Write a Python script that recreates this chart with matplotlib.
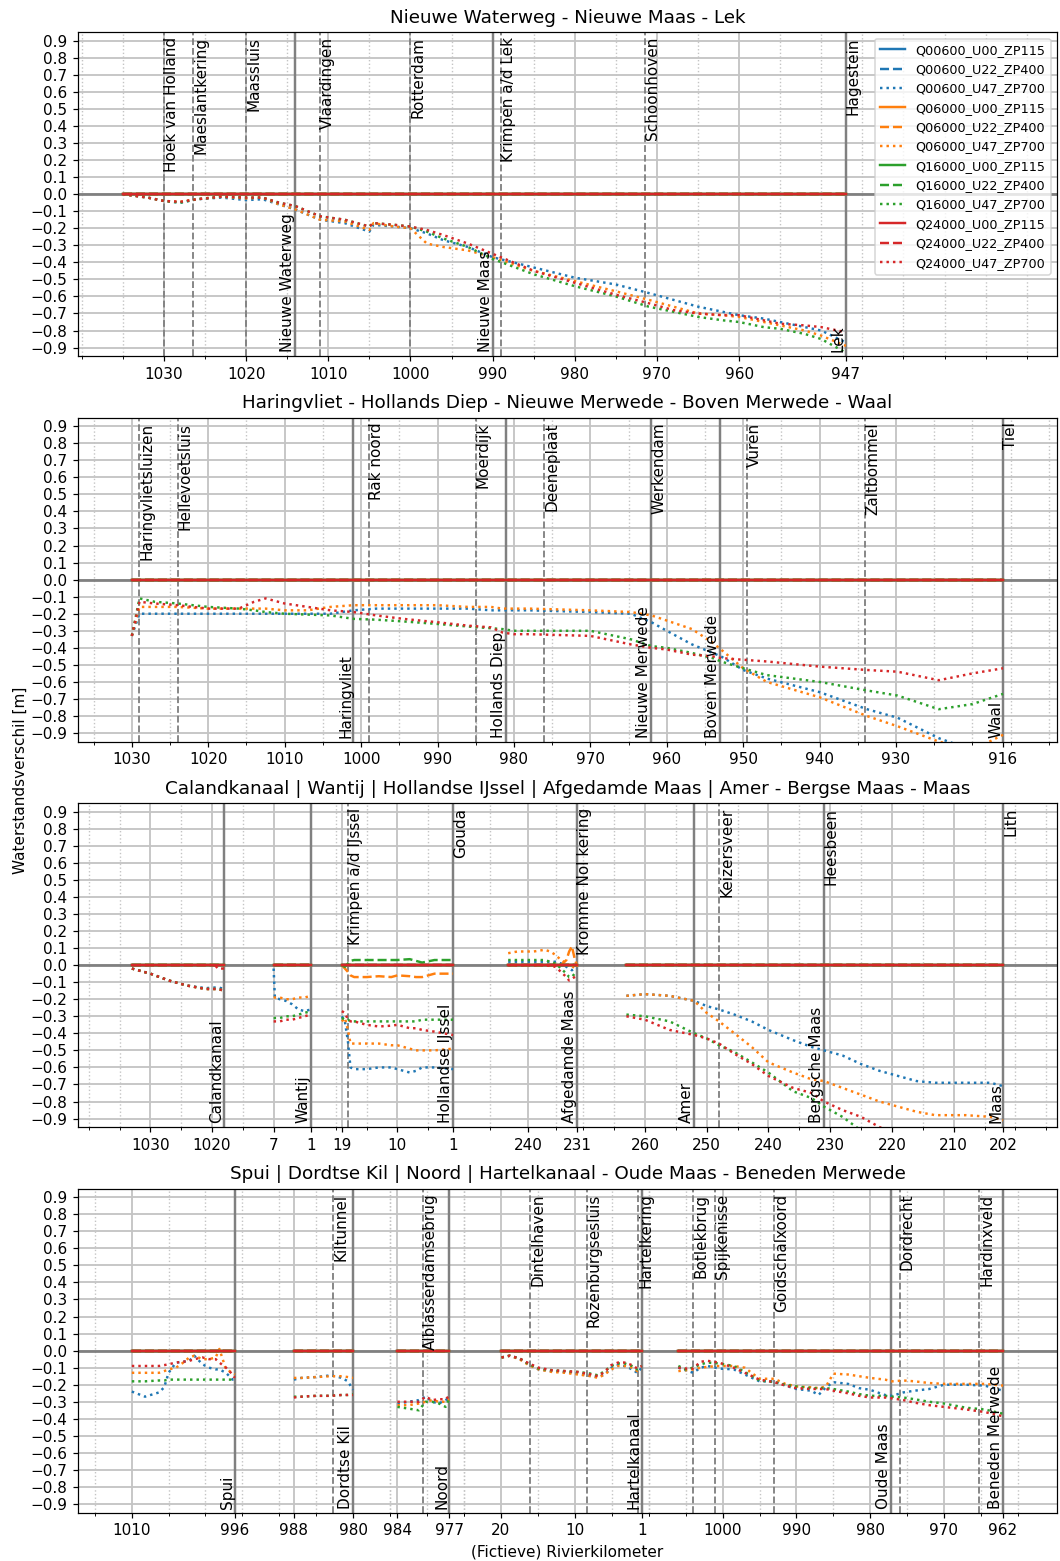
import numpy as np
import matplotlib
matplotlib.use("Agg")
import matplotlib.pyplot as plt
from matplotlib.transforms import blended_transform_factory

scenarios = ["Q00600", "Q06000", "Q16000", "Q24000"]
varianten = ["U00_ZP115", "U22_ZP400", "U47_ZP700"]
kleuren = ["C0", "C1", "C2", "C3"]
stijlen = ["-", "--", ":"]
nullijn = [0.0, 0.0]

titels = ["Nieuwe Waterweg - Nieuwe Maas - Lek",
          "Haringvliet - Hollands Diep - Nieuwe Merwede - Boven Merwede - Waal",
          "Calandkanaal | Wantij | Hollandse IJssel | Afgedamde Maas | Amer - Bergse Maas - Maas",
          "Spui | Dordtse Kil | Noord | Hartelkanaal - Oude Maas - Beneden Merwede"]

# ---------------- data (U47_ZP700, dotted) ----------------
# paneel 1: Nieuwe Waterweg - Nieuwe Maas - Lek
nwm_km = [1035, 1032, 1030, 1028, 1026, 1023, 1020, 1018, 1016, 1014, 1011, 1008, 1005, 1004.5, 1002,
          1000, 998, 996, 993, 990, 985, 980, 975, 971, 968, 965, 962, 960, 957, 955, 952, 950, 947]
nwm_q00600 = [0, -0.02, -0.04, -0.05, -0.03, -0.02, -0.035, -0.03, -0.06, -0.09, -0.15, -0.17, -0.22, -0.18, -0.19,
              -0.20, -0.23, -0.27, -0.31, -0.37, -0.43, -0.49, -0.53, -0.58, -0.62, -0.66, -0.69, -0.71, -0.73, -0.75, -0.78, -0.80, -0.87]
nwm_q06000 = [0, -0.02, -0.04, -0.045, -0.03, -0.015, -0.025, -0.02, -0.06, -0.09, -0.15, -0.16, -0.21, -0.17, -0.19,
              -0.20, -0.29, -0.31, -0.33, -0.37, -0.45, -0.51, -0.57, -0.62, -0.66, -0.70, -0.71, -0.72, -0.75, -0.77, -0.80, -0.83, -0.89]
nwm_q16000 = [0, -0.02, -0.04, -0.05, -0.03, -0.015, -0.02, -0.02, -0.05, -0.07, -0.13, -0.15, -0.19, -0.17, -0.18,
              -0.19, -0.22, -0.26, -0.31, -0.38, -0.47, -0.54, -0.60, -0.66, -0.69, -0.72, -0.74, -0.75, -0.78, -0.79, -0.82, -0.85, -0.93]
nwm_q24000 = [0, -0.02, -0.04, -0.045, -0.03, -0.015, -0.02, -0.02, -0.05, -0.07, -0.13, -0.15, -0.19, -0.17, -0.18,
              -0.19, -0.21, -0.24, -0.29, -0.35, -0.45, -0.52, -0.59, -0.64, -0.68, -0.70, -0.71, -0.71, -0.74, -0.76, -0.77, -0.78, -0.81]

# paneel 2: Haringvliet - Hollands Diep - Nieuwe Merwede - Boven Merwede - Waal
hvw_km = [1030, 1029, 1027, 1024, 1020, 1016, 1014, 1012.5, 1010, 1007, 1004, 1001, 998, 994.5, 990,
          986, 983, 981.5, 980, 978, 970, 964.7, 962, 960, 956.7, 954, 952.9, 950, 946.9, 940,
          933.8, 929.8, 924.4, 920, 916]
hvw_q00600 = [-0.33, -0.20, -0.20, -0.20, -0.20, -0.20, -0.20, -0.20, -0.20, -0.20, -0.20, -0.18, -0.17, -0.17, -0.17,
              -0.17, -0.18, -0.18, -0.18, -0.18, -0.19, -0.20, -0.25, -0.30, -0.38, -0.43, -0.45, -0.53, -0.58, -0.66,
              -0.76, -0.81, -0.93, -1.00, -0.97]
hvw_q06000 = [-0.33, -0.16, -0.16, -0.16, -0.17, -0.17, -0.17, -0.17, -0.18, -0.18, -0.16, -0.15, -0.15, -0.15, -0.15,
              -0.16, -0.16, -0.17, -0.17, -0.17, -0.18, -0.19, -0.21, -0.24, -0.29, -0.37, -0.41, -0.52, -0.60, -0.69,
              -0.80, -0.86, -0.95, -1.00, -0.91]
hvw_q16000 = [-0.33, -0.11, -0.13, -0.14, -0.16, -0.17, -0.18, -0.19, -0.20, -0.205, -0.21, -0.23, -0.235, -0.245, -0.26,
              -0.275, -0.285, -0.29, -0.30, -0.30, -0.30, -0.35, -0.39, -0.40, -0.43, -0.46, -0.48, -0.52, -0.56, -0.60,
              -0.65, -0.68, -0.76, -0.73, -0.67]
hvw_q24000 = [-0.33, -0.13, -0.14, -0.15, -0.17, -0.17, -0.13, -0.11, -0.14, -0.16, -0.18, -0.19, -0.21, -0.23, -0.25,
              -0.27, -0.28, -0.31, -0.32, -0.32, -0.33, -0.38, -0.40, -0.41, -0.44, -0.45, -0.46, -0.47, -0.48, -0.51,
              -0.53, -0.54, -0.59, -0.55, -0.52]

# paneel 3
cal_km = [1033, 1030, 1027, 1024, 1021, 1019, 1018]
cal_q00600 = [-0.02, -0.05, -0.09, -0.12, -0.135, -0.13, -0.14]
cal_q06000 = [-0.02, -0.05, -0.09, -0.12, -0.14, -0.14, -0.15]
cal_q16000 = [-0.02, -0.05, -0.09, -0.12, -0.14, -0.14, -0.15]
cal_q24000 = [-0.02, -0.05, -0.09, -0.12, -0.14, -0.14, -0.15]
cal_q24000_u22_km = [1033, 1019.5, 1019, 1018]
cal_q24000_u22 = [0.0, 0.0, -0.02, -0.02]

wan_km = [7, 6.8, 6, 5, 4, 3, 2, 1]
wan_q00600 = [-0.02, -0.19, -0.20, -0.21, -0.23, -0.26, -0.27, -0.26]
wan_q06000 = [-0.19, -0.19, -0.19, -0.20, -0.20, -0.19, -0.19, -0.18]
wan_q16000 = [-0.31, -0.31, -0.31, -0.30, -0.30, -0.29, -0.28, -0.27]
wan_q24000 = [-0.33, -0.33, -0.33, -0.32, -0.32, -0.31, -0.30, -0.29]

hij_km = [19, 18.5, 18, 17.6, 17, 15, 13, 11, 10, 8, 7, 6, 4, 1]
hij_q00600 = [-0.30, -0.33, -0.45, -0.60, -0.61, -0.61, -0.60, -0.60, -0.61, -0.63, -0.62, -0.60, -0.60, -0.61]
hij_q06000 = [-0.33, -0.31, -0.38, -0.46, -0.46, -0.46, -0.46, -0.47, -0.47, -0.49, -0.50, -0.50, -0.50, -0.49]
hij_q16000 = [-0.31, -0.32, -0.32, -0.33, -0.33, -0.33, -0.33, -0.33, -0.33, -0.33, -0.33, -0.32, -0.32, -0.32]
hij_q24000 = [-0.27, -0.28, -0.32, -0.33, -0.33, -0.35, -0.36, -0.355, -0.35, -0.37, -0.37, -0.38, -0.39, -0.41]
hij_q06000_u22 = [0.0, -0.02, -0.04, -0.06, -0.07, -0.07, -0.065, -0.07, -0.06, -0.065, -0.07, -0.07, -0.05, -0.05]
hij_q16000_u22 = [0.0, -0.01, 0.01, 0.025, 0.03, 0.03, 0.03, 0.03, 0.03, 0.035, 0.025, 0.015, 0.03, 0.03]

afm_km = [243.7, 242, 239, 237, 236, 235, 234, 233, 232.5, 232, 231.5, 231]
afm_q00600 = [0.02, 0.02, 0.02, 0.02, 0.02, 0.02, 0.01, -0.01, -0.02, -0.03, -0.02, -0.02]
afm_q06000 = [0.07, 0.08, 0.08, 0.09, 0.08, 0.06, 0.03, 0.01, 0.0, -0.02, 0.0, 0.01]
afm_q16000 = [0.03, 0.03, 0.03, 0.03, 0.02, 0.01, -0.02, -0.05, -0.07, -0.07, -0.05, -0.04]
afm_q24000 = [0.0, 0.0, 0.0, 0.0, -0.005, -0.01, -0.04, -0.07, -0.09, -0.08, -0.07, -0.06]
afm_q06000_u22 = [0.0, 0.0, 0.0, 0.0, 0.0, 0.0, 0.0, 0.03, 0.08, 0.11, 0.04, -0.01]

abm_km = [263, 260, 256, 252, 250, 248, 245.5, 242.7, 240, 236, 233, 231, 228, 225, 222, 219, 216, 213, 208, 204, 202]
abm_q00600 = [-0.18, -0.17, -0.18, -0.21, -0.24, -0.26, -0.29, -0.33, -0.38, -0.44, -0.48, -0.50, -0.53, -0.58,
              -0.62, -0.65, -0.68, -0.69, -0.69, -0.69, -0.71]
abm_q06000 = [-0.18, -0.17, -0.18, -0.21, -0.28, -0.33, -0.40, -0.48, -0.57, -0.63, -0.67, -0.68, -0.72, -0.76,
              -0.80, -0.83, -0.86, -0.88, -0.88, -0.89, -0.91]
abm_q16000 = [-0.29, -0.30, -0.33, -0.40, -0.43, -0.47, -0.51, -0.57, -0.63, -0.74, -0.78, -0.83, -0.89, -0.97,
              -1.04, -1.08, -1.10, -1.12, -1.14, -1.15, -1.16]
abm_q24000 = [-0.30, -0.32, -0.38, -0.41, -0.43, -0.46, -0.52, -0.58, -0.65, -0.72, -0.75, -0.80, -0.85, -0.89,
              -0.95, -1.00, -1.04, -1.07, -1.10, -1.12, -1.13]

# paneel 4
spu_km = [1010, 1008.2, 1006.3, 1005.6, 1005, 1004, 1003, 1002.2, 1001.5, 1000.4, 999.5, 998.6, 998.1, 997.2, 996.3, 996]
spu_q00600 = [-0.24, -0.27, -0.245, -0.215, -0.13, -0.07, -0.065, -0.06, -0.03, -0.08, -0.10, -0.11, -0.11, -0.13, -0.17, -0.17]
spu_q06000 = [-0.13, -0.13, -0.13, -0.12, -0.11, -0.10, -0.07, -0.04, -0.03, -0.05, -0.05, -0.04, 0.01, -0.11, -0.13, -0.14]
spu_q16000 = [-0.18, -0.18, -0.175, -0.175, -0.17, -0.17, -0.17, -0.17, -0.17, -0.17, -0.17, -0.17, -0.17, -0.17, -0.17, -0.17]
spu_q24000 = [-0.09, -0.09, -0.09, -0.085, -0.08, -0.07, -0.065, -0.06, -0.05, -0.04, -0.05, -0.05, -0.07, -0.10, -0.14, -0.16]

dki_km = [988, 987, 985, 983, 981.5, 980.7, 980]
dki_q00600 = [-0.17, -0.16, -0.155, -0.145, -0.16, -0.18, -0.23]
dki_q06000 = [-0.16, -0.16, -0.155, -0.15, -0.15, -0.155, -0.16]
dki_q16000 = [-0.27, -0.27, -0.265, -0.265, -0.26, -0.26, -0.255]
dki_q24000 = [-0.275, -0.27, -0.265, -0.265, -0.26, -0.26, -0.26]

noo_km = [984, 982.5, 981.1, 980.2, 979.3, 978.4, 977.5, 977]
noo_q00600 = [-0.31, -0.30, -0.29, -0.27, -0.30, -0.31, -0.29, -0.275]
noo_q06000 = [-0.32, -0.32, -0.31, -0.30, -0.29, -0.30, -0.30, -0.285]
noo_q16000 = [-0.33, -0.34, -0.35, -0.30, -0.30, -0.31, -0.33, -0.28]
noo_q24000 = [-0.30, -0.30, -0.30, -0.27, -0.29, -0.285, -0.285, -0.265]

hka_km = [19.9, 18.8, 17.5, 16.2, 14.9, 13.1, 11.3, 9.6, 7.8, 6.9, 6.0, 5.1, 4.2, 3.3, 2.3, 1.6, 1.0]
hka_q00600 = [-0.04, -0.03, -0.045, -0.08, -0.11, -0.12, -0.125, -0.135, -0.15, -0.155, -0.14, -0.10, -0.085, -0.09, -0.11, -0.13, -0.10]
hka_q06000 = [-0.04, -0.03, -0.05, -0.085, -0.11, -0.125, -0.13, -0.14, -0.15, -0.16, -0.14, -0.11, -0.09, -0.09, -0.10, -0.12, -0.11]
hka_q16000 = [-0.04, -0.03, -0.045, -0.08, -0.105, -0.115, -0.12, -0.125, -0.135, -0.145, -0.12, -0.09, -0.075, -0.075, -0.09, -0.11, -0.09]
hka_q24000 = [-0.04, -0.03, -0.045, -0.075, -0.10, -0.115, -0.12, -0.125, -0.14, -0.15, -0.125, -0.085, -0.07, -0.07, -0.085, -0.105, -0.09]

omb_km = [1006, 1005, 1004, 1003, 1002, 1000.5, 998.5, 997, 995, 993, 991.5, 990, 988, 987, 986,
          985, 983, 981.5, 980, 978, 977, 975.5, 974, 972, 970, 967, 964.5, 962]
omb_q00600 = [-0.10, -0.115, -0.13, -0.10, -0.09, -0.105, -0.11, -0.14, -0.18, -0.18, -0.205, -0.225, -0.235, -0.26, -0.215,
              -0.185, -0.195, -0.22, -0.23, -0.26, -0.265, -0.245, -0.235, -0.225, -0.20, -0.20, -0.205, -0.235]
omb_q06000 = [-0.12, -0.115, -0.11, -0.10, -0.095, -0.09, -0.09, -0.10, -0.165, -0.165, -0.195, -0.21, -0.215, -0.22, -0.21,
              -0.135, -0.14, -0.15, -0.16, -0.17, -0.18, -0.175, -0.18, -0.19, -0.195, -0.195, -0.195, -0.205]
omb_q16000 = [-0.09, -0.11, -0.10, -0.08, -0.07, -0.075, -0.09, -0.125, -0.175, -0.185, -0.20, -0.21, -0.22, -0.22, -0.22,
              -0.225, -0.24, -0.255, -0.265, -0.265, -0.27, -0.275, -0.285, -0.30, -0.31, -0.335, -0.345, -0.37]
omb_q24000 = [-0.10, -0.105, -0.105, -0.065, -0.06, -0.07, -0.10, -0.13, -0.17, -0.185, -0.205, -0.22, -0.225, -0.225, -0.225,
              -0.235, -0.25, -0.265, -0.275, -0.275, -0.28, -0.29, -0.305, -0.32, -0.33, -0.345, -0.36, -0.385]

# ---------------- layout van de fictieve as ----------------
# per traject: (km links, positie, km rechts, positie)
kaart_nwm = (1030, 163.9, 947, 845.9)
kaart_hvw = (1030, 131.8, 916, 1003.0)
kaart_cal = (1030, 150.3, 1020, 211.8)
kaart_wan = (7, 273.6, 1, 310.8)
kaart_hij = (19, 341.8, 1, 453.0)
kaart_afm = (240, 528.3, 231, 577.3)
kaart_abm = (260, 644.9, 202, 1003.0)
kaart_spu = (1010, 131.8, 996, 234.8)
kaart_dki = (988, 293.9, 980, 353.0)
kaart_noo = (984, 397.4, 977, 449.3)
kaart_hka = (20, 500.7, 1, 641.7)
kaart_omb = (1000, 722.6, 962, 1003.0)


def fx(kaart, km):
    k0, x0, k1, x1 = kaart
    return x0 + (k0 - np.asarray(km, dtype=float)) * (x1 - x0) / (k0 - k1)


def traject(kaart, km, reeksen, u22=None):
    return dict(kaart=kaart, km=km, u47=reeksen, u22=u22 or {})


panelen = [
    dict(trajecten=[traject(kaart_nwm, nwm_km, [nwm_q00600, nwm_q06000, nwm_q16000, nwm_q24000])],
         major=[(0, k) for k in [1030, 1020, 1010, 1000, 990, 980, 970, 960, 947]],
         minor=[(0, k) for k in [1040, 1035, 1025, 1015, 1005, 995, 985, 975, 965, 955, 950, 945, 940, 935, 930, 925]],
         stations=[(0, 1030, "Hoek van Holland"), (0, 1026.4, "Maeslantkering"), (0, 1020, "Maassluis"),
                   (0, 1011, "Vlaardingen"), (0, 1000, "Rotterdam"), (0, 989, "Krimpen a/d Lek"),
                   (0, 971.5, "Schoonhoven"), (0, 947, "Hagestein")],
         takken=[(0, 1014, "Nieuwe Waterweg"), (0, 990, "Nieuwe Maas"), (0, 947, "Lek")]),
    dict(trajecten=[traject(kaart_hvw, hvw_km, [hvw_q00600, hvw_q06000, hvw_q16000, hvw_q24000])],
         major=[(0, k) for k in [1030, 1020, 1010, 1000, 990, 980, 970, 960, 950, 940, 930, 916]],
         minor=[(0, k) for k in [1035, 1025, 1015, 1005, 995, 985, 975, 965, 955, 945, 935, 925, 920, 915, 910]],
         stations=[(0, 1029, "Haringvlietsluizen"), (0, 1024, "Hellevoetsluis"), (0, 999, "Rak noord"),
                   (0, 985, "Moerdijk"), (0, 976, "Deeneplaat"), (0, 962, "Werkendam"), (0, 949.5, "Vuren"),
                   (0, 934, "Zaltbommel"), (0, 916, "Tiel")],
         takken=[(0, 1001, "Haringvliet"), (0, 981, "Hollands Diep"), (0, 962, "Nieuwe Merwede"),
                 (0, 953, "Boven Merwede"), (0, 916, "Waal")]),
    dict(trajecten=[traject(kaart_cal, cal_km, [cal_q00600, cal_q06000, cal_q16000, cal_q24000],
                            {3: (cal_q24000_u22_km, cal_q24000_u22)}),
                    traject(kaart_wan, wan_km, [wan_q00600, wan_q06000, wan_q16000, wan_q24000]),
                    traject(kaart_hij, hij_km, [hij_q00600, hij_q06000, hij_q16000, hij_q24000],
                            {1: (hij_km, hij_q06000_u22), 2: (hij_km, hij_q16000_u22)}),
                    traject(kaart_afm, afm_km, [afm_q00600, afm_q06000, afm_q16000, afm_q24000],
                            {1: (afm_km, afm_q06000_u22)}),
                    traject(kaart_abm, abm_km, [abm_q00600, abm_q06000, abm_q16000, abm_q24000])],
         major=[(0, 1030), (0, 1020), (1, 7), (1, 1), (2, 19), (2, 10), (2, 1), (3, 240), (3, 231),
                (4, 260), (4, 250), (4, 240), (4, 230), (4, 220), (4, 210), (4, 202)],
         minor=[(0, 1040), (0, 1035), (0, 1025), (0, 1015), (2, 20), (2, 15), (2, 5), (2, -5), (3, 235), (3, 230),
                (4, 265), (4, 255), (4, 245), (4, 235), (4, 225), (4, 215), (4, 205), (4, 200), (4, 195)],
         stations=[(2, 18, "Krimpen a/d IJssel"), (2, 1, "Gouda"), (3, 231, "Kromme Nol kering"),
                   (4, 248, "Keizersveer"), (4, 231, "Heesbeen"), (4, 202, "Lith")],
         takken=[(0, 1018, "Calandkanaal"), (1, 1, "Wantij"), (2, 1, "Hollandse IJssel"),
                 (3, 231, "Afgedamde Maas"), (4, 252, "Amer"), (4, 231, "Bergsche Maas"), (4, 202, "Maas")]),
    dict(trajecten=[traject(kaart_spu, spu_km, [spu_q00600, spu_q06000, spu_q16000, spu_q24000]),
                    traject(kaart_dki, dki_km, [dki_q00600, dki_q06000, dki_q16000, dki_q24000]),
                    traject(kaart_noo, noo_km, [noo_q00600, noo_q06000, noo_q16000, noo_q24000]),
                    traject(kaart_hka, hka_km, [hka_q00600, hka_q06000, hka_q16000, hka_q24000]),
                    traject(kaart_omb, omb_km, [omb_q00600, omb_q06000, omb_q16000, omb_q24000])],
         major=[(0, 1010), (0, 996), (1, 988), (1, 980), (2, 984), (2, 977), (3, 20), (3, 10), (3, 1),
                (4, 1000), (4, 990), (4, 980), (4, 970), (4, 962)],
         minor=[(0, 1015), (0, 1005), (0, 1000), (0, 995), (1, 990), (1, 985), (1, 975), (2, 985), (2, 980),
                (2, 975), (3, 25), (3, 15), (3, 5), (3, 0), (4, 1010), (4, 1005), (4, 995), (4, 985), (4, 975),
                (4, 965), (4, 960)],
         stations=[(1, 982.7, "Kiltunnel"), (2, 980.5, "Alblasserdamsebrug"), (3, 16, "Dintelhaven"),
                   (3, 8.4, "Rozenburgsesluis"), (3, 1.5, "Hartelkering"), (4, 1004, "Botlekbrug"),
                   (4, 1001, "Spijkenisse"), (4, 993, "Goidschalxoord"), (4, 976, "Dordrecht"),
                   (4, 965.2, "Hardinxveld")],
         takken=[(0, 996, "Spui"), (1, 980, "Dordtse Kil"), (2, 977, "Noord"), (3, 1, "Hartelkanaal"),
                 (4, 977.2, "Oude Maas"), (4, 962, "Beneden Merwede")]),
]

fig = plt.figure(figsize=(1060 / 110, 1561 / 110), dpi=110)
axes = fig.subplots(4, 1)
fig.subplots_adjust(left=0.0736, right=0.9972, top=0.9794, bottom=0.031, hspace=0.19)

yticks = np.round(np.arange(-9, 10) / 10, 1)

for p, (ax, paneel) in enumerate(zip(axes, panelen)):
    trajecten = paneel["trajecten"]
    trans = blended_transform_factory(ax.transData, ax.transAxes)
    ax.axhline(0, color="gray", lw=1.8, zorder=1.5)

    for t, tr in enumerate(trajecten):
        rand = [tr["km"][0], tr["km"][-1]]
        for q in range(4):
            for v in range(3):
                if v == 0:
                    km, waarden = rand, nullijn
                elif v == 1:
                    km, waarden = tr["u22"].get(q, (rand, nullijn))
                else:
                    km, waarden = tr["km"], tr["u47"][q]
                label = f"{scenarios[q]}_{varianten[v]}" if (p == 0 and t == 0) else None
                ax.plot(fx(tr["kaart"], km), waarden, color=kleuren[q], ls=stijlen[v], lw=1.6, label=label)

    for i, km, naam in paneel["stations"]:
        x = fx(trajecten[i]["kaart"], km)
        ax.axvline(x, color="gray", ls="--", lw=1.2, zorder=1.8)
        ax.text(x, 0.985, naam, transform=trans, rotation=90, ha="left", va="top")
    for i, km, naam in paneel["takken"]:
        x = fx(trajecten[i]["kaart"], km)
        ax.axvline(x, color="gray", lw=1.6, zorder=1.8)
        ax.text(x, 0.012, naam, transform=trans, rotation=90, ha="right", va="bottom")

    ax.set_xticks([fx(trajecten[i]["kaart"], k) for i, k in paneel["major"]])
    ax.set_xticklabels([str(k) for i, k in paneel["major"]])
    ax.set_xticks([fx(trajecten[i]["kaart"], k) for i, k in paneel["minor"]], minor=True)
    ax.set_yticks(yticks)
    ax.set_xlim(78, 1057)
    ax.set_ylim(-0.95, 0.95)
    ax.set_axisbelow(True)
    ax.grid(which="major", color="#c4c4c4", lw=1.2)
    ax.grid(which="minor", axis="x", color="#c4c4c4", ls=":", lw=0.9)
    ax.set_title(titels[p])

axes[0].legend(loc="upper right", fontsize="small")
axes[-1].set_xlabel("(Fictieve) Rivierkilometer")
fig.text(0.019, 0.5, "Waterstandsverschil [m]", rotation=90, ha="center", va="center")

fig.savefig("out.png", dpi=110)
